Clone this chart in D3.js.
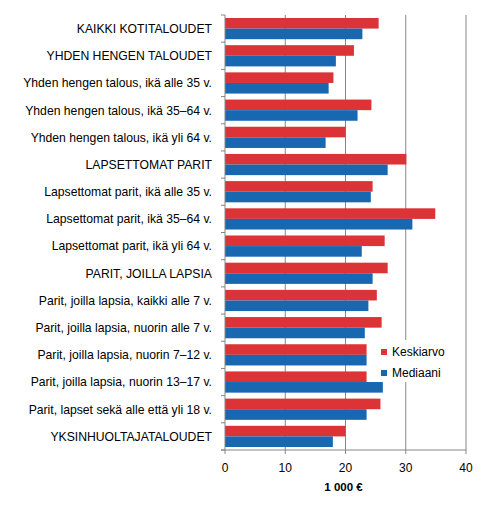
<!DOCTYPE html>
<html>
<head>
<meta charset="utf-8">
<script src="https://cdn.jsdelivr.net/npm/d3@7"></script>
<style>
  body { margin: 0; background: #fff; }
  text { font-family: "Liberation Sans", Arial, sans-serif; fill: #000; }
</style>
</head>
<body>
<svg id="chart" width="490" height="507"></svg>
<script>
const categories = [
    'KAIKKI KOTITALOUDET',
    'YHDEN HENGEN TALOUDET',
    'Yhden hengen talous, ikä alle 35 v.',
    'Yhden hengen talous, ikä 35–64 v.',
    'Yhden hengen talous, ikä yli 64 v.',
    'LAPSETTOMAT PARIT',
    'Lapsettomat parit, ikä alle 35 v.',
    'Lapsettomat parit, ikä 35–64 v.',
    'Lapsettomat parit, ikä yli 64 v.',
    'PARIT, JOILLA LAPSIA',
    'Parit, joilla lapsia, kaikki alle 7 v.',
    'Parit, joilla lapsia, nuorin alle 7 v.',
    'Parit, joilla lapsia, nuorin 7–12 v.',
    'Parit, joilla lapsia, nuorin 13–17 v.',
    'Parit, lapset sekä alle että yli 18 v.',
    'YKSINHUOLTAJATALOUDET'
];
const keskiarvo = [25.5, 21.4, 18.0, 24.3, 20.0, 30.1, 24.5, 34.9, 26.5, 27.0, 25.2, 26.0, 23.5, 23.5, 25.8, 20.0];
const mediaani  = [22.8, 18.4, 17.2, 22.0, 16.7, 27.0, 24.2, 31.1, 22.7, 24.5, 23.8, 23.2, 23.5, 26.2, 23.5, 17.9];
const seriesNames = ['Keskiarvo', 'Mediaani'];
const seriesColors = ['#dc3337', '#1767b1'];
const xTicks = [0, 10, 20, 30, 40];
const xTitle = '1 000 €';

const svg = d3.select('#chart');
const margin = {left: 225, right: 24, top: 15, bottom: 57};
const width = 490, height = 507;
const axisColor = '#868686';

let x = d3.scaleLinear()
    .domain([0, 40])
    .range([margin.left, width - margin.right]);

let y = d3.scaleBand()
    .domain(categories)
    .range([margin.top, height - margin.bottom])
    .paddingInner(0.22)
    .paddingOuter(0.11);

let ySub = d3.scaleBand()
    .domain(seriesNames)
    .range([0, y.bandwidth()]);

// gridlines
svg.append('g')
    .selectAll('line')
    .data(xTicks.filter(d => d > 0))
    .enter()
    .append('line')
        .attr('x1', d => x(d)).attr('x2', d => x(d))
        .attr('y1', margin.top).attr('y2', height - margin.bottom)
        .attr('stroke', axisColor)
        .attr('stroke-width', 1);

// bars
let rows = categories.map((c, i) => ({cat: c, values: [keskiarvo[i], mediaani[i]]}));

let group = svg.append('g')
    .selectAll('g')
    .data(rows)
    .enter()
    .append('g')
        .attr('transform', d => `translate(0,${y(d.cat)})`);

group.selectAll('rect')
    .data(d => d.values.map((v, i) => ({name: seriesNames[i], value: v, color: seriesColors[i]})))
    .enter()
    .append('rect')
        .attr('x', x(0))
        .attr('y', d => ySub(d.name))
        .attr('width', d => x(d.value) - x(0))
        .attr('height', ySub.bandwidth())
        .attr('fill', d => d.color);

// left axis line with ticks between categories
let step = y.step();
let boundaries = d3.range(categories.length + 1).map(i => margin.top + i * step);
let yAxis = svg.append('g');
yAxis.append('line')
    .attr('x1', x(0)).attr('x2', x(0))
    .attr('y1', margin.top).attr('y2', height - margin.bottom)
    .attr('stroke', axisColor);
yAxis.selectAll('.tick')
    .data(boundaries)
    .enter()
    .append('line')
        .attr('x1', x(0) - 4).attr('x2', x(0))
        .attr('y1', d => d).attr('y2', d => d)
        .attr('stroke', axisColor);
yAxis.selectAll('text')
    .data(categories)
    .enter()
    .append('text')
        .attr('x', x(0) - 13)
        .attr('y', d => y(d) + y.bandwidth() / 2)
        .attr('dy', '0.36em')
        .attr('text-anchor', 'end')
        .attr('font-size', 12.2)
        .text(d => d);

// bottom axis
let xAxis = svg.append('g')
    .attr('transform', `translate(0,${height - margin.bottom})`);
xAxis.append('line')
    .attr('x1', x(0) - 4).attr('x2', x(40))
    .attr('stroke', axisColor);
xAxis.selectAll('.tick')
    .data(xTicks)
    .enter()
    .append('line')
        .attr('x1', d => x(d)).attr('x2', d => x(d))
        .attr('y1', 0).attr('y2', 4)
        .attr('stroke', axisColor);
xAxis.selectAll('text')
    .data(xTicks)
    .enter()
    .append('text')
        .attr('x', d => x(d))
        .attr('y', 18)
        .attr('dy', '0.36em')
        .attr('text-anchor', 'middle')
        .attr('font-size', 12)
        .text(d => d);

svg.append('text')
    .attr('x', (x(0) + x(40)) / 2 - 2)
    .attr('y', 487)
    .attr('dy', '0.36em')
    .attr('text-anchor', 'middle')
    .attr('font-size', 11.5)
    .attr('font-weight', 'bold')
    .text(xTitle);

// legend
let legend = svg.append('g')
    .attr('transform', 'translate(378,340)');
legend.append('rect')
    .attr('width', 80).attr('height', 42)
    .attr('fill', '#fff');
let item = legend.selectAll('g')
    .data(seriesNames)
    .enter()
    .append('g')
        .attr('transform', (d, i) => `translate(0,${i * 21})`);
item.append('rect')
    .attr('x', 3).attr('y', 9)
    .attr('width', 6).attr('height', 6)
    .attr('fill', (d, i) => seriesColors[i]);
item.append('text')
    .attr('x', 14)
    .attr('y', 12)
    .attr('dy', '0.36em')
    .attr('font-size', 12)
    .text(d => d);
</script>
</body>
</html>
